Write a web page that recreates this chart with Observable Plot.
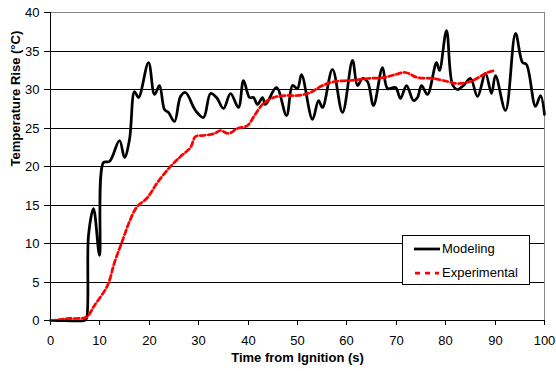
<!DOCTYPE html>
<html>
<head>
<meta charset="utf-8">
<script src="https://cdn.jsdelivr.net/npm/d3@7"></script>
<script src="https://cdn.jsdelivr.net/npm/@observablehq/plot@0.6"></script>
<style>
  html, body { margin: 0; padding: 0; background: #fff; }
  #wrap { position: relative; width: 556px; height: 371px; font-family: "Liberation Sans", Arial, sans-serif; }
  #legend { position: absolute; left: 402px; top: 235px; width: 128px; height: 50px; background: #fff; border: 1px solid #000; box-sizing: border-box; font-size: 13px; color: #000; }
  .row { position: absolute; left: 0; height: 14px; }
  .row span { position: absolute; left: 39px; top: 0; line-height: 14px; white-space: nowrap; }
</style>
</head>
<body>
<div id="wrap">
  <div id="chart"></div>
  <div id="legend">
    <div class="row" style="top:6px;width:100%">
      <svg width="40" height="14" style="position:absolute;left:0;top:0"><line x1="11" x2="37" y1="7" y2="7" stroke="#000" stroke-width="2.75"/></svg>
      <span>Modeling</span>
    </div>
    <div class="row" style="top:30px;width:100%">
      <svg width="40" height="14" style="position:absolute;left:0;top:0"><line x1="12" x2="36" y1="7" y2="7" stroke="#ff0000" stroke-width="2.75" stroke-dasharray="5,5"/></svg>
      <span>Experimental</span>
    </div>
  </div>
</div>
<script>
const modelTime = [0,3,6.8,7.2,7.75,8.8,9.85,10.8,11.9,14.0,15.0,16.0,17.1,17.9,19.9,21.1,22.0,23.1,23.9,25.0,26.3,27.3,29.4,31.0,32.3,33.7,35.1,36.4,38.0,39.1,40.2,41.0,42.0,42.9,43.5,45.7,47.8,48.9,49.9,50.9,53.0,54.3,55.0,57.0,59.1,61.1,62.2,63.1,64.1,65.3,67.2,68.2,69.8,70.9,72.1,73.4,74.2,75.2,76.3,78.1,78.8,80.2,81.3,82.3,83.7,85.0,86.4,88.1,89.2,90.1,92.1,94.1,95.5,96.4,98.2,99.1,100];
const modelRise = [0,0,0,0.3,11,14.5,8.5,20.5,20.6,23.4,21.2,23.5,29.8,28.9,33.5,29.3,30.5,27.4,27.0,25.9,29.1,29.6,27.3,26.4,29.5,29.0,27.5,29.5,27.7,31.2,29.0,28.9,28.1,28.9,28.1,30.3,26.6,30.5,30.1,32.0,26.1,28.6,27.7,32.6,27.0,33.8,30.5,31.4,31.0,27.9,32.8,30.1,30.2,28.8,30.5,28.6,29.0,30.5,29.4,33.5,32.5,37.7,30.7,30.0,30.5,31.4,29.1,32.1,29.5,31.8,27.3,37.3,33.5,33.3,27.8,29.2,26.7];

const expTime = [0,2,3.5,5,7,7.5,9,11.5,13,14.6,16,17.5,19.6,21.7,24.0,26.3,28.3,29.4,31.0,33.1,34.4,36.1,37.8,39.8,41.2,42.9,45.2,47.6,49.9,52.6,54.7,57.4,60.7,64.1,67.5,69.8,71.9,74.2,77.6,80.3,82.3,85.0,86.7,88.4,89.9];
const expRise = [0,0.1,0.3,0.3,0.4,0.5,2.0,4.5,7.5,10.4,12.8,14.7,16.0,17.9,19.9,21.3,22.5,23.9,24.0,24.3,24.7,24.3,24.9,25.3,26.6,28.1,28.9,29.2,29.2,29.6,30.4,31.1,31.2,31.4,31.5,31.9,32.2,31.6,31.4,31.1,30.8,31.1,31.5,32.2,32.5];

const xTicks = [0,10,20,30,40,50,60,70,80,90,100];
const yTicks = [0,5,10,15,20,25,30,35,40];
const gridValues = [5,10,15,20,25,30,35];

const modeling = modelTime.map((t, i) => ({t, v: modelRise[i]}));
const experimental = expTime.map((t, i) => ({t, v: expRise[i]}));

const chart = Plot.plot({
  width: 556,
  height: 371,
  marginLeft: 50,
  marginRight: 12,
  marginTop: 12,
  marginBottom: 51,
  style: {fontFamily: "'Liberation Sans', Arial, sans-serif", fontSize: "13px", color: "#000", background: "#fff"},
  x: {domain: [0, 100], label: null, round: true},
  y: {domain: [0, 40], label: null, round: true},
  marks: [
    Plot.ruleY(gridValues, {stroke: "#000", strokeWidth: 1}),
    Plot.ruleY([40], {stroke: "#888", strokeWidth: 1}),
    Plot.ruleX([100], {stroke: "#888", strokeWidth: 1}),
    Plot.axisX({ticks: xTicks, tickSize: 5, tickPadding: 10, stroke: "#000", strokeOpacity: 1, label: null, fontSize: 13}),
    Plot.axisY({ticks: yTicks, tickSize: 6, tickPadding: 5, stroke: "#000", strokeOpacity: 1, label: null, fontSize: 13}),
    Plot.line(modeling, {x: "t", y: "v", stroke: "#000", strokeWidth: 2.75, curve: "catmull-rom"}),
    Plot.line(experimental, {x: "t", y: "v", stroke: "#ff0000", strokeWidth: 2.75, strokeDasharray: "5,3", curve: "catmull-rom"}),
    Plot.ruleY([0], {stroke: "#000", strokeWidth: 1}),
    Plot.ruleX([0], {stroke: "#000", strokeWidth: 1}),
    Plot.text(["Time from Ignition (s)"], {frameAnchor: "bottom", dy: 41, fontWeight: "bold", fontSize: 13, fill: "#000"}),
    Plot.text(["Temperature Rise (°C)"], {frameAnchor: "left", dx: -35, rotate: -90, fontWeight: "bold", fontSize: 13, fill: "#000"})
  ]
});
document.getElementById("chart").appendChild(chart);
</script>
</body>
</html>
